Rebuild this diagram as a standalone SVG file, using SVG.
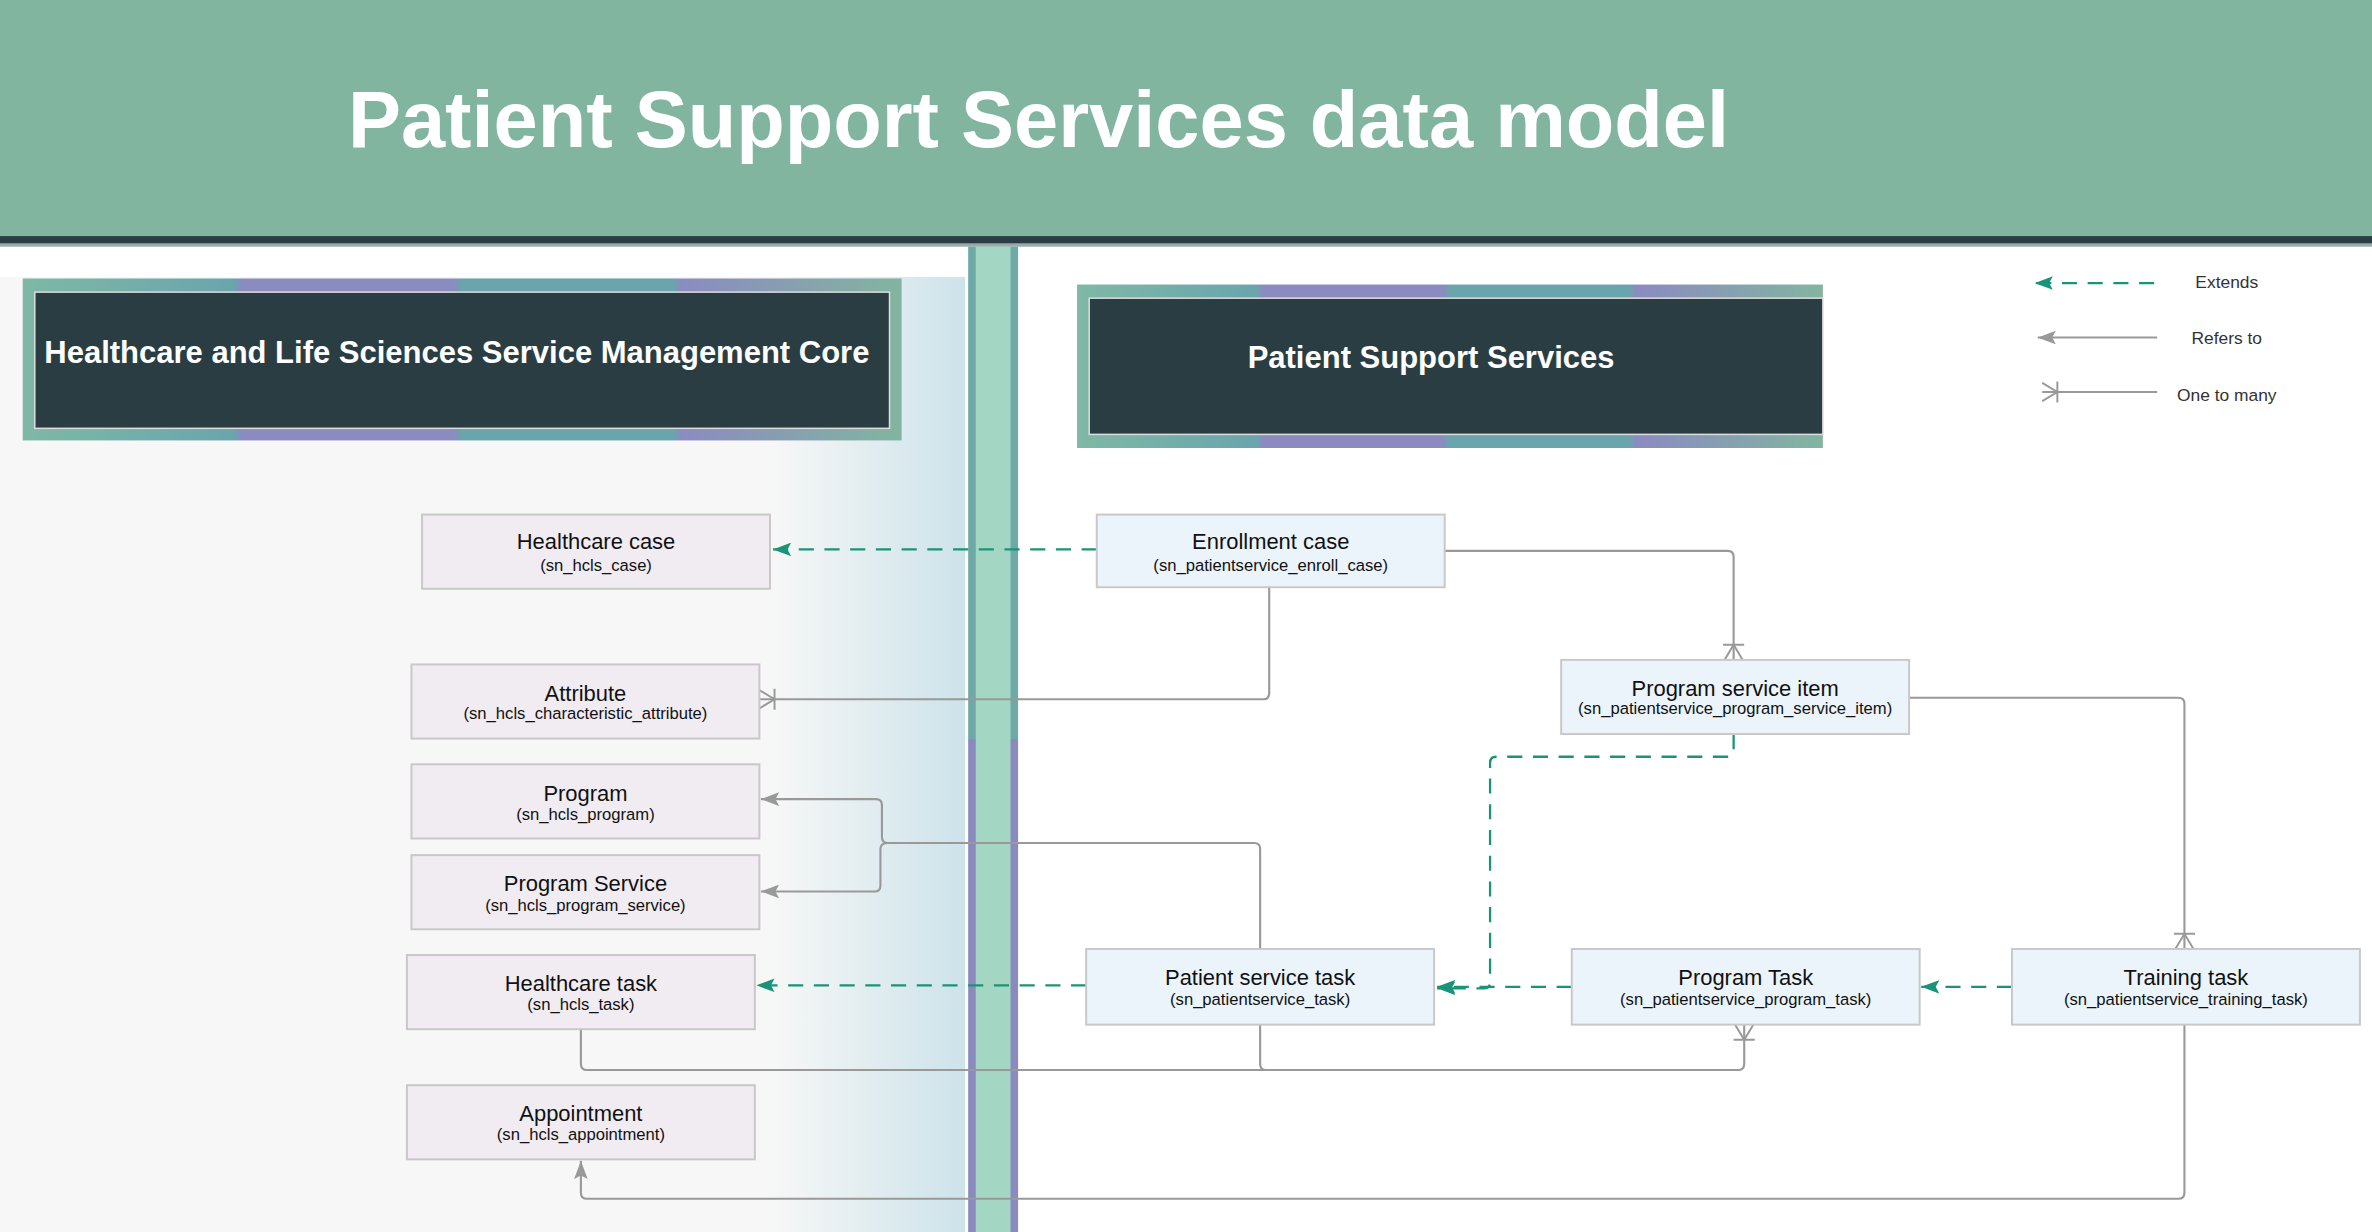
<svg xmlns="http://www.w3.org/2000/svg" width="2372" height="1232" viewBox="0 0 2372 1232">
<defs>
<linearGradient id="lp" x1="0" x2="1" y1="0" y2="0"><stop offset="0.8" stop-color="#f7f7f7"/><stop offset="1" stop-color="#cde3ea"/></linearGradient>
<linearGradient id="vb" x1="0" x2="0" y1="0" y2="1"><stop offset="0" stop-color="#6ea9a8"/><stop offset="0.5" stop-color="#6ea9a8"/><stop offset="0.5" stop-color="#8a8abf"/><stop offset="1" stop-color="#8a8abf"/></linearGradient>
<linearGradient id="hb" x1="0" x2="1" y1="0" y2="0"><stop offset="0" stop-color="#7fb8a5"/><stop offset="0.24" stop-color="#6aa5ad"/><stop offset="0.25" stop-color="#8b8bc0"/><stop offset="0.49" stop-color="#8b8bc0"/><stop offset="0.5" stop-color="#6aa5ad"/><stop offset="0.74" stop-color="#6aa5ad"/><stop offset="0.75" stop-color="#8b8bc0"/><stop offset="1" stop-color="#82b5a0"/></linearGradient>
<marker id="ag" viewBox="0 0 10 10" refX="10" refY="5" markerWidth="12" markerHeight="9" markerUnits="userSpaceOnUse" orient="auto" preserveAspectRatio="none"><path d="M0,0 L10,5 L0,10 L2,5 z" fill="#1a9478"/></marker>
<marker id="ar" viewBox="0 0 10 10" refX="10" refY="5" markerWidth="12" markerHeight="9" markerUnits="userSpaceOnUse" orient="auto" preserveAspectRatio="none"><path d="M0,0 L10,5 L0,10 L2,5 z" fill="#999"/></marker>
<marker id="cf" viewBox="-12 -8 14 16" refX="0" refY="0" markerWidth="14" markerHeight="16" markerUnits="userSpaceOnUse" orient="auto"><path d="M0,-6 L-10,0 L0,6 M-10,-7 L-10,7" fill="none" stroke="#999" stroke-width="1.3"/></marker>
<style>
.t{font-family:"Liberation Sans",Arial,sans-serif;fill:#111;text-anchor:middle}
.n1{fill:#f0ecf1;stroke:#c8c8c8;stroke-width:1.3}
.n2{fill:#eaf4fa;stroke:#c8c8c8;stroke-width:1.3}
.m{font-size:14.5px}.s{font-size:11px}
.ext{fill:none;stroke:#1a9478;stroke-width:1.5;stroke-dasharray:10,7}
.ref{fill:none;stroke:#999;stroke-width:1.4}
.lg{font-family:"Liberation Sans",Arial,sans-serif;font-size:11.5px;fill:#333;text-anchor:middle}
</style>
</defs>
<g transform="scale(1.51276,1.51351)">
<rect width="1568" height="814" fill="#fff"/>
<rect width="1568" height="158" fill="#82b5a0"/>
<rect y="156" width="1568" height="5" fill="#2a3d42"/>
<rect y="161" width="1568" height="2" fill="#9aa"/>
<text x="230" y="97" font-family="Liberation Sans,Arial,sans-serif" font-weight="bold" font-size="52.5" fill="#fff">Patient Support Services data model</text>
<rect x="0" y="183" width="638" height="631" fill="url(#lp)"/>
<rect x="640" y="163" width="33" height="651" fill="url(#vb)"/>
<rect x="645" y="163" width="23" height="651" fill="#a3d6c3"/>
<g id="hdr-left"><rect x="15" y="184" width="581" height="107" fill="url(#hb)"/><rect x="23" y="193" width="565" height="90" fill="#2a3d42" stroke="#ddd" stroke-width="1"/>
<text x="302" y="240" font-family="Liberation Sans,Arial,sans-serif" font-weight="bold" font-size="20.5" fill="#fff" text-anchor="middle">Healthcare and Life Sciences Service Management Core</text></g>
<g id="hdr-right"><rect x="712" y="188" width="493" height="108" fill="url(#hb)"/><rect x="720" y="197" width="485" height="90" fill="#2a3d42" stroke="#ddd" stroke-width="1"/>
<text x="946" y="243" font-family="Liberation Sans,Arial,sans-serif" font-weight="bold" font-size="20.5" fill="#fff" text-anchor="middle">Patient Support Services</text></g>
<g id="legend">
<path d="M1424,187 H1345" class="ext" marker-end="url(#ag)"/><text x="1472" y="190" class="lg">Extends</text>
<path d="M1426,223 H1347" class="ref" marker-end="url(#ar)"/><text x="1472" y="227" class="lg">Refers to</text>
<path d="M1426,259 H1350" class="ref" marker-end="url(#cf)"/><text x="1472" y="265" class="lg">One to many</text>
</g>
<g id="connectors">
<path d="M725,363 H511" class="ext" marker-end="url(#ag)"/>
<path d="M718,651 H500" class="ext" marker-end="url(#ag)"/>
<path d="M1039,652 H950" class="ext" marker-end="url(#ag)"/>
<path d="M1330,652 H1270" class="ext" marker-end="url(#ag)"/>
<path d="M1146,485 V496 Q1146,500 1142,500 H989 Q985,500 985,504 V649 Q985,653 981,653 H950" class="ext" marker-end="url(#ag)"/>
<path d="M955,364 H1142 Q1146,364 1146,368 V436" class="ref" marker-end="url(#cf)"/>
<path d="M839,388 V458 Q839,462 835,462 H502" class="ref" marker-end="url(#cf)"/>
<path d="M1262,461 H1440 Q1444,461 1444,465 V627" class="ref" marker-end="url(#cf)"/>
<path d="M833,627 V561 Q833,557 829,557 H587 Q583,557 583,553 V532 Q583,528 579,528 H503" class="ref" marker-end="url(#ar)"/>
<path d="M587,557 Q582,557 582,561 V585 Q582,589 578,589 H503" class="ref" marker-end="url(#ar)"/>
<path d="M384,680 V703 Q384,707 388,707 H1149 Q1153,707 1153,703 V677" class="ref" marker-end="url(#cf)"/>
<path d="M833,677 V703 Q833,707 837,707" class="ref"/>
<path d="M1444,677 V788 Q1444,792 1440,792 H388 Q384,792 384,788 V767" class="ref" marker-end="url(#ar)"/>
</g>
<g id="n-hcase"><rect x="279" y="340" width="230" height="49" class="n1"/><text x="394" y="363" class="t m">Healthcare case</text><text x="394" y="377" class="t s">(sn_hcls_case)</text></g>
<g id="n-attr"><rect x="272" y="439" width="230" height="49" class="n1"/><text x="387" y="463" class="t m">Attribute</text><text x="387" y="475" class="t s">(sn_hcls_characteristic_attribute)</text></g>
<g id="n-prog"><rect x="272" y="505" width="230" height="49" class="n1"/><text x="387" y="529" class="t m">Program</text><text x="387" y="542" class="t s">(sn_hcls_program)</text></g>
<g id="n-progsvc"><rect x="272" y="565" width="230" height="49" class="n1"/><text x="387" y="589" class="t m">Program Service</text><text x="387" y="602" class="t s">(sn_hcls_program_service)</text></g>
<g id="n-htask"><rect x="269" y="631" width="230" height="49" class="n1"/><text x="384" y="655" class="t m">Healthcare task</text><text x="384" y="667" class="t s">(sn_hcls_task)</text></g>
<g id="n-appt"><rect x="269" y="717" width="230" height="49" class="n1"/><text x="384" y="741" class="t m">Appointment</text><text x="384" y="753" class="t s">(sn_hcls_appointment)</text></g>
<g id="n-enroll"><rect x="725" y="340" width="230" height="48" class="n2"/><text x="840" y="363" class="t m">Enrollment case</text><text x="840" y="377" class="t s">(sn_patientservice_enroll_case)</text></g>
<g id="n-psi"><rect x="1032" y="436" width="230" height="49" class="n2"/><text x="1147" y="460" class="t m">Program service item</text><text x="1147" y="472" class="t s">(sn_patientservice_program_service_item)</text></g>
<g id="n-pst"><rect x="718" y="627" width="230" height="50" class="n2"/><text x="833" y="651" class="t m">Patient service task</text><text x="833" y="664" class="t s">(sn_patientservice_task)</text></g>
<g id="n-ptask"><rect x="1039" y="627" width="230" height="50" class="n2"/><text x="1154" y="651" class="t m">Program Task</text><text x="1154" y="664" class="t s">(sn_patientservice_program_task)</text></g>
<g id="n-ttask"><rect x="1330" y="627" width="230" height="50" class="n2"/><text x="1445" y="651" class="t m">Training task</text><text x="1445" y="664" class="t s">(sn_patientservice_training_task)</text></g>
</g>
</svg>
